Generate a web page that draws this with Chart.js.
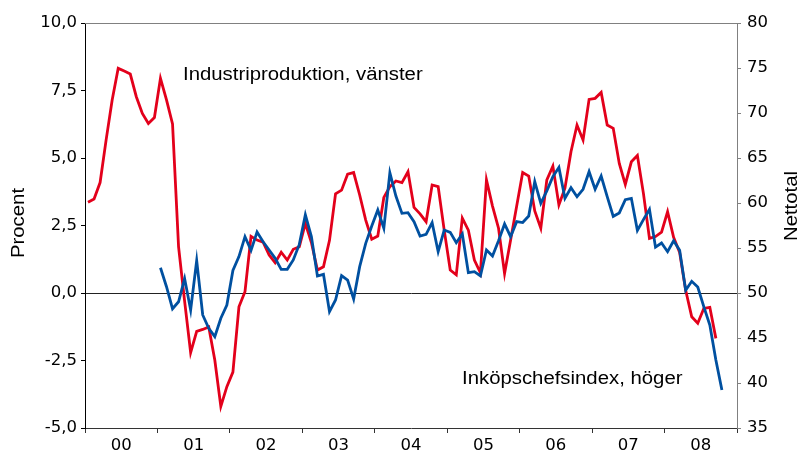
<!DOCTYPE html>
<html>
<head>
<meta charset="utf-8">
<script src="https://cdn.jsdelivr.net/npm/chart.js@4.4.1/dist/chart.umd.min.js"></script>
<style>
  html, body { margin: 0; padding: 0; background: #fff; }
  #wrap { width: 803px; height: 457px; }
</style>
</head>
<body>
<div id="wrap"><canvas id="c" width="803" height="457"></canvas></div>
<script>
// Year labels on the time axis (2000-2008)
const yearLabels = ["00", "01", "02", "03", "04", "05", "06", "07", "08"];

// Industriproduktion, annual % change, monthly from Jan 2000 (left axis)
const industriproduktion = [
  3.36, 3.48, 4.09, 5.67, 7.15, 8.32, 8.22, 8.11, 7.27, 6.65, 6.28, 6.50,
  7.95, 7.15, 6.26, 1.71, -0.30, -2.21, -1.42, -1.35, -1.26, -2.48, -4.20, -3.47,
  -2.93, -0.51, 0.05, 2.10, 1.96, 1.88, 1.41, 1.12, 1.51, 1.22, 1.62, 1.71,
  2.58, 1.87, 0.85, 0.97, 1.95, 3.67, 3.81, 4.40, 4.46, 3.63, 2.70, 1.99,
  2.11, 3.54, 3.94, 4.15, 4.09, 4.49, 3.17, 2.93, 2.64, 4.00, 3.94, 2.33,
  0.85, 0.67, 2.77, 2.33, 1.22, 0.75, 4.19, 3.22, 2.40, 0.72, 1.96, 3.21,
  4.46, 4.33, 3.04, 2.40, 4.19, 4.70, 3.26, 3.88, 5.23, 6.22, 5.67, 7.17,
  7.21, 7.43, 6.22, 6.10, 4.80, 4.02, 4.86, 5.09, 3.69, 2.02, 2.09, 2.25,
  3.01, 2.06, 1.50, 0.10, -0.88, -1.12, -0.57, -0.53, -1.68
];
const industriStartMonth = 0;   // Jan 2000

// Inköpschefsindex, net total, monthly from Jan 2001 (right axis)
const inkopschefsindex = [
  52.8, 50.7, 48.25, 49.03, 51.6, 48.11, 53.6, 47.56, 46.07, 45.15, 47.19, 48.67,
  52.5, 54.04, 56.26, 54.74, 56.78, 55.7, 54.78, 53.85, 52.63, 52.63, 53.67, 55.4,
  58.7, 56.26, 51.89, 52.07, 47.93, 49.22, 51.93, 51.44, 49.33, 52.93, 55.52, 57.44,
  59.22, 57.19, 63.37, 60.78, 58.85, 58.93, 57.93, 56.33, 56.52, 57.82, 54.59, 57.0,
  56.74, 55.59, 56.56, 52.26, 52.37, 51.89, 54.78, 54.11, 55.8, 57.67, 56.26, 57.93,
  57.83, 58.55, 62.37, 59.96, 61.35, 62.93, 63.96, 60.52, 61.7, 60.7, 61.52, 63.48,
  61.52, 63.0, 60.7, 58.52, 58.9, 60.37, 60.52, 56.96, 58.15, 59.3, 55.1, 55.55,
  54.59, 55.8, 54.74, 50.3, 51.3, 50.66, 48.48, 46.44, 42.56, 39.22
];
const inkopStartMonth = 12;     // Jan 2001

// Axis ticks
const leftTicks = [-5, -2.5, 0, 2.5, 5, 7.5, 10];
const rightTicks = [35, 40, 45, 50, 55, 60, 65, 70, 75, 80];
const monthsPerYear = 12;

function toPoints(values, start) {
  return values.map((v, i) => ({ x: start + i + 0.5, y: v }));
}

const FONT = '"Liberation Sans", Arial, sans-serif';
const TICKFONT = '"DejaVu Sans", "Liberation Sans", Arial, sans-serif';
const RED = '#E3001B';
const BLUE = '#0050A0';
const STRETCH = 1.13;

function stretchedText(ctx, text, x, y, rot, align) {
  ctx.save();
  ctx.fillStyle = '#000';
  ctx.font = '18px ' + FONT;
  ctx.textBaseline = 'middle';
  ctx.textAlign = align;
  ctx.translate(x, y);
  if (rot) ctx.rotate(rot);
  ctx.scale(STRETCH, 1);
  ctx.fillText(text, 0, 0);
  ctx.restore();
}

const overlay = {
  id: 'overlay',
  beforeDatasetsDraw(chart) {
    const { ctx, chartArea: a } = chart;
    ctx.save();
    ctx.strokeStyle = '#808080';
    ctx.lineWidth = 1;
    ctx.beginPath();
    ctx.moveTo(a.left, a.top + 0.5);
    ctx.lineTo(a.right, a.top + 0.5);
    ctx.stroke();
    ctx.restore();
  },
  afterDraw(chart) {
    const { ctx } = chart;
    stretchedText(ctx, 'Industriproduktion, vänster', 183, 75, 0, 'left');
    stretchedText(ctx, 'Inköpschefsindex, höger', 462, 379, 0, 'left');
    stretchedText(ctx, 'Procent', 19, 223, -Math.PI / 2, 'center');
    stretchedText(ctx, 'Nettotal', 792, 206, -Math.PI / 2, 'center');
  }
};

new Chart(document.getElementById('c'), {
  type: 'line',
  data: {
    datasets: [
      {
        label: 'Inköpschefsindex, höger',
        data: toPoints(inkopschefsindex, inkopStartMonth),
        yAxisID: 'y2',
        borderColor: BLUE,
        borderWidth: 2.8,
        pointRadius: 0,
        tension: 0,
        fill: false
      },
      {
        label: 'Industriproduktion, vänster',
        data: toPoints(industriproduktion, industriStartMonth),
        yAxisID: 'y',
        borderColor: RED,
        borderWidth: 2.8,
        pointRadius: 0,
        tension: 0,
        fill: false
      }
    ]
  },
  options: {
    responsive: false,
    animation: false,
    devicePixelRatio: 1,
    layout: { padding: { top: 23, left: 0, right: 0, bottom: 0 } },
    plugins: { legend: { display: false }, tooltip: { enabled: false } },
    scales: {
      x: {
        type: 'linear',
        position: 'bottom',
        min: 0,
        max: yearLabels.length * monthsPerYear,
        afterBuildTicks(scale) {
          scale.ticks = [];
          for (let i = 0; i <= yearLabels.length; i++) scale.ticks.push({ value: i * monthsPerYear });
        },
        afterFit(scale) { scale.height = 29; },
        ticks: {
          autoSkip: false,
          maxRotation: 0,
          padding: 3,
          labelOffset: 36.2,
          color: '#000',
          font: { family: TICKFONT, size: 16.5 },
          callback(value) {
            const idx = Math.round(value / monthsPerYear);
            return idx < yearLabels.length ? yearLabels[idx] : '';
          }
        },
        grid: { drawOnChartArea: false, drawTicks: true, tickLength: 5, color: '#333' },
        border: { display: true, color: '#333', width: 1 }
      },
      y: {
        position: 'left',
        min: leftTicks[0],
        max: leftTicks[leftTicks.length - 1],
        afterBuildTicks(scale) { scale.ticks = leftTicks.map(v => ({ value: v })); },
        afterFit(scale) { scale.width = 85; },
        ticks: {
          padding: 4,
          color: '#000',
          font: { family: TICKFONT, size: 16.5 },
          callback(value) { return value.toFixed(1).replace('.', ','); }
        },
        grid: {
          drawOnChartArea: true,
          drawTicks: true,
          tickLength: 4,
          tickColor: '#000',
          lineWidth: 1,
          color(ctx) { return ctx.tick && ctx.tick.value === 0 ? '#222' : 'rgba(0,0,0,0)'; }
        },
        border: { display: true, color: '#000', width: 1 }
      },
      y2: {
        position: 'right',
        min: rightTicks[0],
        max: rightTicks[rightTicks.length - 1],
        afterBuildTicks(scale) { scale.ticks = rightTicks.map(v => ({ value: v })); },
        afterFit(scale) { scale.width = 66; },
        ticks: {
          padding: 6,
          color: '#000',
          font: { family: TICKFONT, size: 16.5 },
          callback(value) { return String(value); }
        },
        grid: { drawOnChartArea: false, drawTicks: true, tickLength: 4, color: '#808080' },
        border: { display: true, color: '#808080', width: 1 }
      }
    }
  },
  plugins: [overlay]
});
</script>
</body>
</html>
